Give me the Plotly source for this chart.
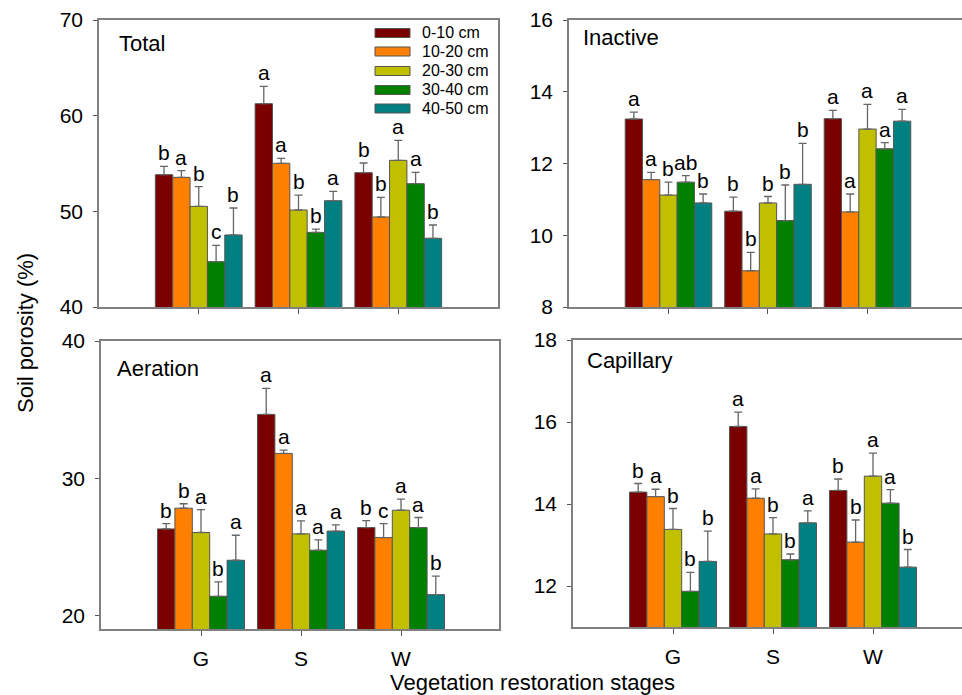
import plotly.graph_objects as go

# Soil porosity by vegetation restoration stage and soil depth
stages = ["G", "S", "W"]
depths = ["0-10 cm", "10-20 cm", "20-30 cm", "30-40 cm", "40-50 cm"]
colors = ["#7a0000", "#ff8000", "#c0c000", "#008000", "#008080"]

# rows = depth layers, columns = stages (G, S, W)
total_mean = [[53.83, 61.25, 54.04], [53.55, 55.02, 49.41], [50.52, 50.14, 55.33],
              [44.74, 47.80, 52.89], [47.53, 51.11, 47.18]]
total_se = [[0.87, 1.82, 1.01], [0.70, 0.52, 2.05], [2.06, 1.56, 2.09],
            [1.71, 0.35, 1.19], [2.82, 0.98, 1.39]]
total_sig = [["b", "a", "b"], ["a", "a", "b"], ["b", "b", "a"], ["c", "b", "a"], ["b", "a", "b"]]

inactive_mean = [[13.24, 10.67, 13.25], [11.55, 9.01, 10.65], [11.12, 10.90, 12.96],
                 [11.48, 10.41, 12.41], [10.90, 11.42, 13.18]]
inactive_se = [[0.19, 0.39, 0.23], [0.20, 0.51, 0.50], [0.36, 0.18, 0.69],
               [0.18, 0.99, 0.17], [0.25, 1.14, 0.33]]
inactive_sig = [["a", "b", "a"], ["a", "b", "a"], ["b", "b", "a"], ["ab", "b", "a"], ["b", "b", "a"]]

aeration_mean = [[26.33, 34.66, 26.43], [27.84, 31.82, 25.70], [26.07, 25.97, 27.69],
                 [21.43, 24.78, 26.43], [24.05, 26.17, 21.55]]
aeration_se = [[0.39, 1.89, 0.51], [0.32, 0.24, 1.02], [1.67, 0.95, 0.81],
               [1.05, 0.75, 0.73], [1.82, 0.46, 1.34]]
aeration_sig = [["b", "a", "b"], ["b", "a", "c"], ["a", "a", "a"], ["b", "a", "a"], ["a", "a", "b"]]

capillary_mean = [[14.29, 15.89, 14.33], [14.18, 14.14, 13.07], [13.38, 13.27, 14.68],
                  [11.87, 12.64, 14.02], [12.60, 13.54, 12.46]]
capillary_se = [[0.21, 0.35, 0.28], [0.18, 0.23, 0.54], [0.51, 0.40, 0.56],
                [0.46, 0.14, 0.33], [0.74, 0.29, 0.43]]
capillary_sig = [["b", "a", "b"], ["a", "a", "b"], ["b", "b", "a"], ["b", "b", "a"], ["b", "a", "b"]]

W, H = 962, 695
FONT = "Liberation Sans, Arial, sans-serif"
BARGAP = 0.13


def px(x):
    return x / W


def py(y):
    return 1 - y / H


panels = [
    # name, means, se, letters, axis suffix, x domain px, y domain px, x range, y range, tickvals, label pos, show x labels, right border
    ("Total", total_mean, total_se, total_sig, "", (99, 498), (20, 307), [-1, 3], [40, 70],
     [40, 50, 60, 70], (117, 43), False, True),
    ("Inactive", inactive_mean, inactive_se, inactive_sig, "2", (569, 962), (20, 307), [-1, 2.95], [8, 16],
     [8, 10, 12, 14, 16], (581, 37), False, False),
    ("Aeration", aeration_mean, aeration_se, aeration_sig, "3", (101, 499), (341, 629), [-1, 2.98], [19.05, 40],
     [20, 30, 40], (115, 368), True, True),
    ("Capillary", capillary_mean, capillary_se, capillary_sig, "4", (573, 962), (340, 627), [-1, 2.89], [11, 18],
     [12, 14, 16, 18], (585, 360), True, False),
]

fig = go.Figure()
annotations = []
shapes = []
x_idx = list(range(len(stages)))
n = len(depths)
bw = (1 - BARGAP) / n

for (name, means, ses, sigs, sfx, xd, yd, xr, yr, tv, lab, showx, rborder) in panels:
    xa, ya = "x" + sfx, "y" + sfx
    for d in range(n):
        fig.add_trace(go.Bar(
            x=x_idx, y=means[d], name=depths[d], xaxis=xa, yaxis=ya,
            marker=dict(color=colors[d], line=dict(color="#555555", width=1)),
            error_y=dict(type="data", array=ses[d], arrayminus=[0] * len(stages), symmetric=False,
                         color="#666666", thickness=1.3, width=4),
            showlegend=False,
        ))
        off = (d - (n - 1) / 2) * bw
        for i in x_idx:
            annotations.append(dict(
                x=i + off, y=means[d][i] + ses[d][i], xref=xa, yref=ya,
                text=sigs[d][i], showarrow=False, yanchor="bottom", xanchor="center",
                font=dict(family=FONT, size=21, color="black"), yshift=0,
            ))
    annotations.append(dict(
        x=px(lab[0]), y=py(lab[1]), xref="paper", yref="paper", text=name, showarrow=False,
        xanchor="left", yanchor="middle", font=dict(family=FONT, size=22, color="black"),
    ))
    key = "" if sfx == "" else sfx
    fig.layout["xaxis" + key] = dict(
        domain=[px(xd[0]), min(px(xd[1]), 1)], anchor=ya, range=xr,
        tickvals=x_idx, ticktext=stages if showx else [""] * len(stages),
        ticks="outside", ticklen=5, tickcolor="#555555", tickwidth=1,
        showline=True, linecolor="#808080", linewidth=1.5, mirror=True,
        showgrid=False, zeroline=False, ticklabelstandoff=5, automargin=False,
        tickfont=dict(family=FONT, size=21, color="black"),
    )
    fig.layout["yaxis" + key] = dict(
        domain=[py(yd[1]), py(yd[0])], anchor=xa, range=yr, tickvals=tv,
        ticks="outside", ticklen=4, tickcolor="#555555", tickwidth=1,
        showline=True, linecolor="#808080", linewidth=1.5, mirror=rborder,
        showgrid=False, zeroline=False, ticklabelstandoff=6, automargin=False,
        tickfont=dict(family=FONT, size=21, color="black"),
    )

# depth legend drawn inside the Total panel
leg_rows = [33, 51.5, 71, 90, 108.5]
for d in range(n):
    yc = leg_rows[d]
    shapes.append(dict(type="rect", xref="paper", yref="paper",
                       x0=px(375), x1=px(410), y0=py(yc + 4.5), y1=py(yc - 4.5),
                       fillcolor=colors[d], line=dict(color="#555555", width=1)))
    annotations.append(dict(x=px(420), y=py(yc), xref="paper", yref="paper", text=depths[d],
                            showarrow=False, xanchor="left", yanchor="middle",
                            font=dict(family=FONT, size=16, color="black")))

annotations.append(dict(x=px(25), y=py(333), xref="paper", yref="paper", text="Soil porosity (%)",
                        showarrow=False, textangle=-90, xanchor="center", yanchor="middle",
                        font=dict(family=FONT, size=22, color="black")))
annotations.append(dict(x=px(532), y=py(682), xref="paper", yref="paper",
                        text="Vegetation restoration stages", showarrow=False,
                        xanchor="center", yanchor="middle",
                        font=dict(family=FONT, size=22, color="black")))

fig.update_layout(
    width=W, height=H, margin=dict(l=0, r=0, t=0, b=0, autoexpand=False),
    paper_bgcolor="white", plot_bgcolor="white",
    barmode="group", bargap=BARGAP, bargroupgap=0,
    annotations=annotations, shapes=shapes, showlegend=False,
    font=dict(family=FONT, color="black"),
)

fig.write_html("out.html")
